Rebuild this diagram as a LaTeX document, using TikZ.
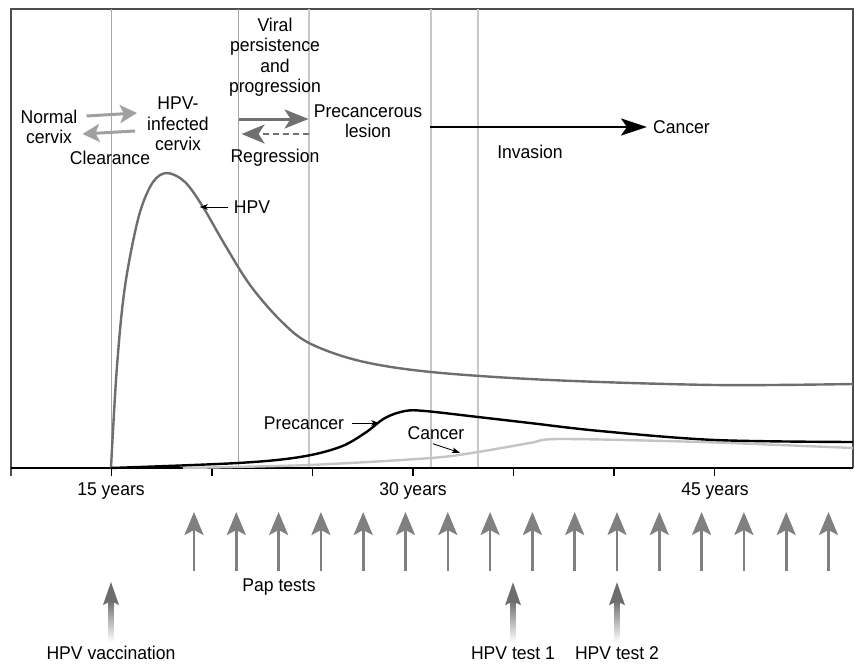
\documentclass[tikz,border=0pt]{standalone}
\usepackage{fontspec}
\setmainfont{Liberation Sans}[FakeStretch=0.95]
\usepackage{xcolor}
\usepackage{tikz}
\usetikzlibrary{arrows.meta,positioning,calc}

\definecolor{framegray}{HTML}{4D4D4D}
\definecolor{stagegray}{HTML}{A8A8A8}
\definecolor{lightline}{HTML}{C8C8C8}
\definecolor{hpvgray}{HTML}{6E6E6E}
\definecolor{cancergray}{HTML}{C4C4C4}
\definecolor{papgray}{HTML}{808080}
\definecolor{testgray}{HTML}{6D6D6D}
\definecolor{cleargray}{HTML}{A0A0A0}
\definecolor{proggray}{HTML}{707070}

\tikzset{
  lbl/.style={font=\fontsize{18.5}{20.5}\selectfont, align=center, inner sep=0pt},
  stage/.style={stagegray, line width=0.8pt},
  curve/.style={line width=2.4pt, line join=round},
  pointer/.style={black, line width=0.8pt, -{Stealth[length=8pt,width=5.5pt,inset=2pt]}},
  flow/.style={line width=3pt, -{Stealth[length=17pt,width=18pt,inset=4pt]}},
  paparrow/.style={papgray, line width=2.6pt, -{Stealth[length=23pt,width=19pt,inset=5pt]}}
}

% faded arrow standing above a label
\newcommand{\fadearrow}[1]{%
  \shade[top color=testgray, bottom color=white] ($(#1.north)+(-2.6,-4)$) rectangle ($(#1.north)+(2.6,-46)$);
  \fill[testgray] ($(#1.north)+(0,-64)$) -- ($(#1.north)+(8,-41)$) -- ($(#1.north)+(0,-45)$) -- ($(#1.north)+(-8,-41)$) -- cycle;
}

\begin{document}
\begin{tikzpicture}[x=1pt,y=-1pt]
\useasboundingbox (0,0) rectangle (855,664);

% frame, stages and time axis
\draw[framegray, line width=1.2pt] (11,476) -- (11,9) -- (853,9) -- (853,468);
\foreach \x in {111,238} \draw[stage] (\x,9) -- (\x,468);
\foreach \x in {309,431,478} \draw[stage, lightline, line width=1.3pt] (\x,9) -- (\x,468);
\draw[black, line width=1.4pt] (11,468) -- (853,468);
\foreach \i in {1,...,7} \draw[black, line width=1.2pt] (11+100.5*\i,468) -- ++(0,8);

% curves
\draw[curve, hpvgray] plot[smooth, tension=0.55] coordinates {(111,468) (116,380) (122,310) (129,262) (140,212) (153,182) (167,173) (185,182) (203,207) (225,245) (250,285) (280,320) (309,343) (360,361) (431,372) (550,380) (715,385) (853,384)};
\draw[curve, cancergray] plot[smooth, tension=0.5] coordinates {(183,468) (309,465) (431,458) (478,452) (530,443) (560,439) (700,442) (853,448)};
\draw[curve, black] plot[smooth, tension=0.55] coordinates {(111,468) (238,463) (300,457) (340,447) (365,433) (385,418) (405,411) (425,411) (478,417) (530,423) (600,431) (715,440) (853,442)};

% stages of infection
\node[lbl] (normal) at (49,127) {Normal\\cervix};
\node[lbl] (infected) at (178,124) {HPV-\\infected\\cervix};
\node[lbl] (clearance) at (110,158) {Clearance};
\node[lbl] (viral) at (275,57) {Viral\\persistence\\and\\progression};
\node[lbl] (regression) at (275,158) {Regression};
\node[lbl] (lesion) at (368,121) {Precancerous\\lesion};
\node[lbl, anchor=west] (cancer) at (653,127) {Cancer};
\node[lbl] (invasion) at (530,152) {Invasion};

\draw[flow, cleargray] ($(normal.east)+(9,-11)$) -- ($(infected.west)+(-10,-11)$);
\draw[flow, cleargray] ($(infected.west)+(-12,7)$) -- ($(normal.east)+(5,7)$);
\draw[flow, proggray, -{Stealth[length=24pt,width=19pt,inset=6pt]}] ($(lesion.west)+(-75,-2)$) -- ($(lesion.west)+(-5,-2)$);
\draw[proggray, line width=2.2pt, dash pattern=on 6pt off 4pt, -{Stealth[length=23pt,width=19pt,inset=6pt]}] ($(lesion.west)+(-5,13)$) -- ($(lesion.west)+(-72,13)$);
\draw[black, line width=2.6pt, -{Stealth[length=26pt,width=17pt,inset=6pt]}] ($(lesion.east)+(8,6)$) -- ($(cancer.west)+(-6,0)$);

% curve labels
\node[lbl] (hpvlbl) at (252,207) {HPV};
\node[lbl] (precancer) at (304,423) {Precancer};
\node[lbl] (cancerlbl) at (436,433) {Cancer};
\draw[pointer] ([xshift=-6pt]hpvlbl.west) -- ++(-28,0);
\draw[pointer] ([xshift=8pt]precancer.east) -- ++(27,0);
\draw[pointer] ($(cancerlbl.south)+(-3,4)$) -- ++(27,9);

% ages
\node[lbl] (t15) at (111,491) {15 years};
\node[lbl] (t30) at (413,491) {30 years};
\node[lbl] (t45) at (715,491) {45 years};

% screening
\foreach \i in {0,...,15} \draw[paparrow] (194+42.3*\i,571) -- ++(0,-59);
\node[lbl] (pap) at (279,587) {Pap tests};
\node[lbl] (vacc) at (111,653) {HPV vaccination};
\node[lbl] (test1) at (513,653) {HPV test 1};
\node[lbl] (test2) at (617,653) {HPV test 2};
\fadearrow{vacc}
\fadearrow{test1}
\fadearrow{test2}
\end{tikzpicture}
\end{document}
